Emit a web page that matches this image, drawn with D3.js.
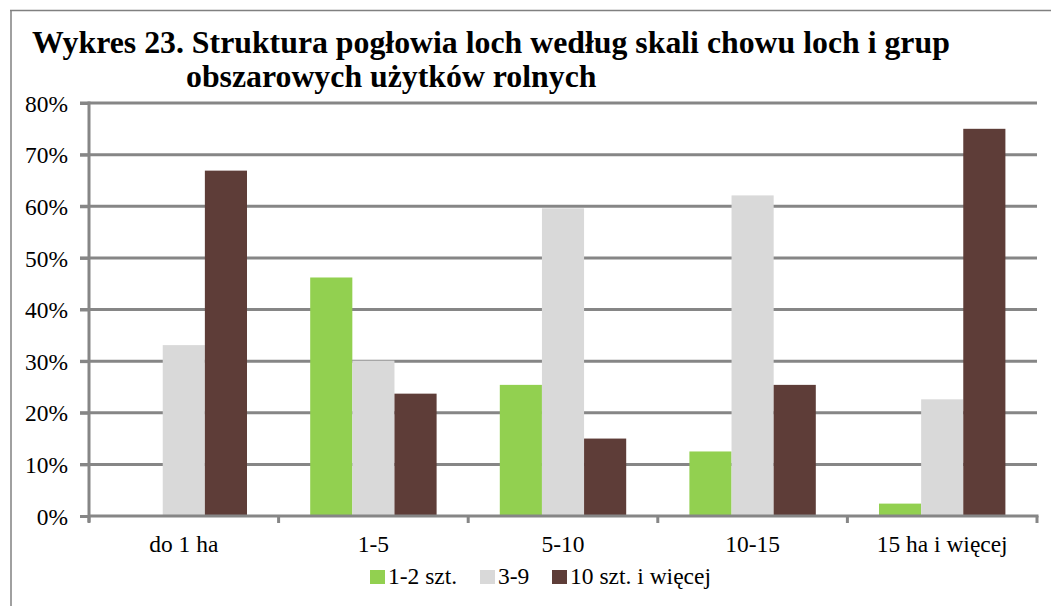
<!DOCTYPE html>
<html>
<head>
<meta charset="utf-8">
<script src="https://cdn.jsdelivr.net/npm/d3@7"></script>
<style>
  html, body { margin: 0; padding: 0; background: #fff; }
  svg { display: block; font-family: "Liberation Serif", "Times New Roman", serif; }
  text { font-family: "Liberation Serif", "Times New Roman", serif; }
</style>
</head>
<body>
<svg id="chart" width="1051" height="606"></svg>
<script>
const titleLines = ["Wykres 23. Struktura pogłowia loch według skali chowu loch i grup", "obszarowych użytków rolnych"];
const categories = ["do 1 ha", "1-5", "5-10", "10-15", "15 ha i więcej"];
const seriesNames = ["1-2 szt.", "3-9", "10 szt. i więcej"];
const s1 = [0, 0.462, 0.254, 0.125, 0.024];
const s2 = [0.331, 0.301, 0.596, 0.621, 0.226];
const s3 = [0.669, 0.237, 0.150, 0.254, 0.750];
const seriesColors = ["#92D050", "#D9D9D9", "#5E3D38"];
const yTicks = [0, 0.1, 0.2, 0.3, 0.4, 0.5, 0.6, 0.7, 0.8];

const seriesValues = [s1, s2, s3];
const svg = d3.select("#chart");
const pLeft = 89, pRight = 1037, pTop = 103, pBottom = 516;

// size a group of texts so that one sample node reaches a target width
function fitGroup(sel, sampleNode, targetWidth, baseSize) {
  sel.attr("font-size", baseSize);
  const w = sampleNode.getComputedTextLength();
  const fs = w > 0 ? baseSize * targetWidth / w : baseSize;
  sel.attr("font-size", fs);
  return fs;
}

// frame lines
svg.append("line").attr("x1", 10).attr("x2", 1051).attr("y1", 10.5).attr("y2", 10.5)
  .attr("stroke", "#808080").attr("stroke-width", 1.5);
svg.append("line").attr("x1", 11).attr("x2", 11).attr("y1", 10).attr("y2", 606)
  .attr("stroke", "#808080").attr("stroke-width", 1.5);

// title
const titleG = svg.append("g");
const t1 = titleG.append("text").attr("x", 32).attr("y", 53).attr("font-weight", "bold")
  .attr("fill", "#000").text(titleLines[0]);
const t2 = titleG.append("text").attr("x", 186).attr("y", 87).attr("font-weight", "bold")
  .attr("fill", "#000").text(titleLines[1]);
fitGroup(titleG.selectAll("text"), t1.node(), 918, 28);

const x0 = d3.scaleBand().domain(categories).range([pLeft, pRight]).paddingInner(0).paddingOuter(0);
const x1 = d3.scaleBand().domain(seriesNames).range([0, x0.bandwidth()]).paddingInner(0).paddingOuter(0.75);
const y = d3.scaleLinear().domain([0, 0.8]).range([pBottom, pTop]);

// gridlines
svg.append("g").selectAll("line").data(yTicks.filter(d => d > 0)).join("line")
  .attr("x1", pLeft - 9).attr("x2", pRight).attr("y1", d => y(d)).attr("y2", d => y(d))
  .attr("stroke", "#868686").attr("stroke-width", 3);

// y axis
const yAxis = d3.axisLeft(y).tickValues(yTicks).tickFormat(d3.format(".0%")).tickSize(9).tickPadding(12);
const gy = svg.append("g").attr("transform", `translate(${pLeft},0)`).call(yAxis)
  .attr("font-family", null).attr("font-size", null);
gy.select(".domain").remove();
gy.selectAll(".tick line").attr("stroke", "#868686").attr("stroke-width", 3);
const yLabels = gy.selectAll(".tick text").attr("fill", "#000").attr("dy", "0.35em");
fitGroup(yLabels, yLabels.filter(d => d === 0.8).node(), 43, 22);
svg.append("line").attr("x1", pLeft).attr("x2", pLeft).attr("y1", pTop - 1.5).attr("y2", pBottom + 6)
  .attr("stroke", "#868686").attr("stroke-width", 3);

// bars
const groups = svg.append("g").selectAll("g").data(categories).join("g")
  .attr("transform", d => `translate(${x0(d)},0)`);
groups.selectAll("rect").data((c, i) => seriesNames.map((s, j) => ({ s, j, v: seriesValues[j][i] })))
  .join("rect")
  .attr("x", d => x1(d.s)).attr("width", x1.bandwidth())
  .attr("y", d => y(d.v)).attr("height", d => y(0) - y(d.v))
  .attr("fill", d => seriesColors[d.j]);

// x axis
svg.append("line").attr("x1", pLeft).attr("x2", pRight + 1.5).attr("y1", pBottom).attr("y2", pBottom)
  .attr("stroke", "#868686").attr("stroke-width", 3);
const boundaries = categories.map(c => x0(c)).concat([x0(categories[categories.length - 1]) + x0.bandwidth()]);
svg.append("g").selectAll("line").data(boundaries).join("line")
  .attr("x1", d => d).attr("x2", d => d).attr("y1", pBottom).attr("y2", pBottom + 7)
  .attr("stroke", "#868686").attr("stroke-width", 3);
const xLabels = svg.append("g").selectAll("text").data(categories).join("text")
  .attr("x", d => x0(d) + x0.bandwidth() / 2).attr("y", 552)
  .attr("text-anchor", "middle").attr("fill", "#000").text(d => d);
fitGroup(xLabels, xLabels.filter(d => d === "15 ha i więcej").node(), 131, 22);

// legend
const legendX = [370, 480, 552];
const lg = svg.append("g").selectAll("g").data(seriesNames).join("g")
  .attr("transform", (d, i) => `translate(${legendX[i]},570)`);
lg.append("rect").attr("width", 15).attr("height", 14).attr("fill", (d, i) => seriesColors[i]);
const lgText = lg.append("text").attr("x", 18).attr("y", 13.5).attr("fill", "#000").text(d => d);
fitGroup(lgText, lgText.filter(d => d === "10 szt. i więcej").node(), 141, 22);
</script>
</body>
</html>
